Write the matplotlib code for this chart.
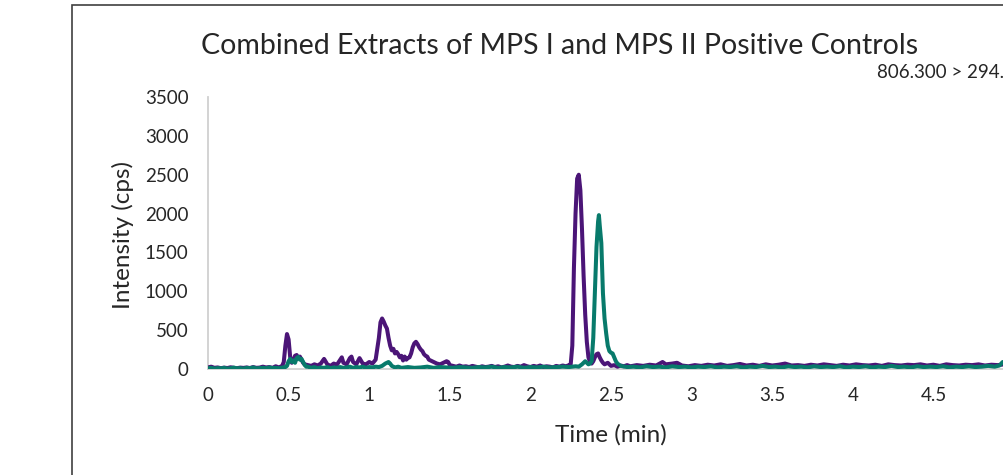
import matplotlib
matplotlib.use("Agg")
import matplotlib.pyplot as plt
import matplotlib.patches as patches

plt.rcParams['font.family'] = ['Lato', 'DejaVu Sans']

# (time [min], intensity [cps])
mps1_pts = [
    (0.00, 20), (0.02, 30), (0.04, 15), (0.06, 20), (0.08, 10), (0.10, 18),
    (0.12, 12), (0.14, 22), (0.16, 15), (0.18, 10), (0.20, 18), (0.22, 14),
    (0.24, 20), (0.26, 12), (0.28, 25), (0.30, 15), (0.32, 18), (0.34, 30),
    (0.36, 20), (0.38, 25), (0.40, 15), (0.42, 35), (0.44, 20), (0.46, 40),
    (0.47, 90), (0.48, 300), (0.49, 450), (0.50, 380), (0.51, 150), (0.52, 80),
    (0.53, 120), (0.54, 170), (0.55, 180), (0.56, 140), (0.57, 160), (0.58, 120),
    (0.59, 80), (0.60, 60), (0.62, 50), (0.64, 40), (0.66, 60), (0.68, 45),
    (0.70, 70), (0.72, 130), (0.74, 60), (0.76, 40), (0.78, 70), (0.80, 55),
    (0.82, 120), (0.83, 150), (0.84, 80), (0.86, 60), (0.88, 140), (0.89, 160),
    (0.90, 90), (0.92, 60), (0.94, 140), (0.96, 70), (0.98, 60), (1.00, 90),
    (1.02, 70), (1.04, 120), (1.06, 400), (1.07, 600), (1.08, 650), (1.09, 610),
    (1.10, 560), (1.11, 520), (1.12, 400), (1.13, 300), (1.14, 240), (1.15, 260),
    (1.16, 200), (1.17, 220), (1.18, 190), (1.19, 150), (1.20, 170), (1.21, 110),
    (1.22, 160), (1.23, 120), (1.24, 140), (1.25, 150), (1.26, 200), (1.27, 280),
    (1.28, 330), (1.29, 350), (1.30, 320), (1.31, 280), (1.32, 250), (1.33, 230),
    (1.34, 190), (1.35, 170), (1.36, 160), (1.37, 120), (1.38, 110), (1.40, 90),
    (1.42, 70), (1.44, 60), (1.46, 80), (1.48, 100), (1.49, 90), (1.50, 50),
    (1.52, 40), (1.54, 30), (1.56, 45), (1.58, 30), (1.60, 35), (1.62, 25),
    (1.64, 40), (1.66, 30), (1.68, 20), (1.70, 35), (1.72, 25), (1.74, 30),
    (1.76, 40), (1.78, 25), (1.80, 35), (1.82, 20), (1.84, 30), (1.86, 45),
    (1.88, 30), (1.90, 25), (1.92, 40), (1.94, 30), (1.96, 50), (1.98, 35),
    (2.00, 25), (2.02, 40), (2.04, 30), (2.06, 45), (2.08, 25), (2.10, 35),
    (2.12, 30), (2.14, 20), (2.16, 40), (2.18, 30), (2.20, 45), (2.22, 35),
    (2.24, 50), (2.25, 60), (2.26, 300), (2.27, 1300), (2.28, 2000), (2.29, 2450),
    (2.30, 2500), (2.31, 2300), (2.32, 1800), (2.33, 1200), (2.34, 700), (2.35, 350),
    (2.36, 150), (2.37, 90), (2.38, 70), (2.39, 100), (2.40, 150), (2.41, 190),
    (2.42, 200), (2.43, 150), (2.44, 110), (2.45, 80), (2.46, 60), (2.48, 80),
    (2.50, 40), (2.52, 50), (2.54, 30), (2.56, 45), (2.58, 35), (2.60, 50),
    (2.62, 35), (2.66, 50), (2.70, 40), (2.74, 55), (2.78, 45), (2.82, 90),
    (2.84, 60), (2.88, 70), (2.91, 80), (2.94, 45), (2.98, 35), (3.02, 50),
    (3.06, 40), (3.10, 55), (3.14, 45), (3.18, 60), (3.22, 40), (3.26, 50),
    (3.30, 65), (3.34, 45), (3.38, 55), (3.42, 40), (3.46, 60), (3.50, 45),
    (3.54, 55), (3.58, 70), (3.62, 45), (3.66, 50), (3.70, 40), (3.74, 55),
    (3.78, 45), (3.82, 60), (3.86, 50), (3.90, 40), (3.94, 55), (3.98, 45),
    (4.02, 60), (4.06, 50), (4.10, 45), (4.14, 55), (4.18, 40), (4.22, 60),
    (4.26, 50), (4.30, 45), (4.34, 55), (4.38, 50), (4.42, 60), (4.46, 45),
    (4.50, 55), (4.54, 40), (4.58, 60), (4.62, 50), (4.66, 45), (4.70, 55),
    (4.74, 50), (4.78, 60), (4.82, 45), (4.86, 55), (4.90, 50), (4.94, 60),
    (4.98, 45), (5.00, 50),
]

mps2_pts = [
    (0.00, 10), (0.02, 15), (0.04, 5), (0.06, 12), (0.08, 8), (0.10, 15),
    (0.12, 5), (0.14, 10), (0.16, 18), (0.18, 8), (0.20, 12), (0.22, 5),
    (0.24, 15), (0.26, 10), (0.28, 20), (0.30, 8), (0.32, 12), (0.34, 15),
    (0.36, 10), (0.38, 20), (0.40, 12), (0.42, 15), (0.44, 10), (0.46, 18),
    (0.48, 25), (0.49, 40), (0.50, 100), (0.51, 130), (0.52, 90), (0.53, 110),
    (0.54, 80), (0.55, 140), (0.56, 155), (0.57, 120), (0.58, 130), (0.59, 90),
    (0.60, 50), (0.61, 30), (0.62, 30), (0.64, 15), (0.66, 25), (0.68, 10),
    (0.70, 20), (0.72, 15), (0.74, 25), (0.76, 10), (0.78, 20), (0.80, 15),
    (0.82, 25), (0.84, 15), (0.86, 20), (0.88, 30), (0.90, 15), (0.92, 25),
    (0.94, 20), (0.96, 30), (0.98, 15), (1.00, 25), (1.02, 20), (1.04, 30),
    (1.06, 25), (1.08, 40), (1.10, 70), (1.12, 90), (1.13, 70), (1.14, 40),
    (1.16, 20), (1.18, 30), (1.20, 15), (1.24, 25), (1.28, 15), (1.32, 20),
    (1.36, 30), (1.40, 15), (1.44, 25), (1.48, 20), (1.52, 15), (1.56, 25),
    (1.60, 20), (1.64, 15), (1.68, 25), (1.72, 20), (1.76, 30), (1.80, 15),
    (1.84, 25), (1.88, 20), (1.92, 30), (1.96, 15), (2.00, 25), (2.04, 20),
    (2.08, 30), (2.12, 20), (2.16, 25), (2.20, 30), (2.24, 25), (2.28, 35),
    (2.30, 30), (2.32, 60), (2.34, 100), (2.35, 80), (2.36, 60), (2.37, 70),
    (2.38, 100), (2.39, 400), (2.40, 975), (2.41, 1570), (2.42, 1900), (2.425, 1980),
    (2.43, 1850), (2.44, 1620), (2.45, 975), (2.46, 650), (2.47, 460), (2.48, 300),
    (2.49, 230), (2.50, 210), (2.51, 200), (2.52, 150), (2.53, 100), (2.54, 70),
    (2.56, 40), (2.60, 25), (2.64, 30), (2.68, 20), (2.72, 35), (2.76, 25),
    (2.80, 30), (2.84, 20), (2.88, 35), (2.92, 25), (2.96, 30), (3.00, 20),
    (3.04, 30), (3.08, 25), (3.12, 35), (3.16, 20), (3.20, 30), (3.24, 25),
    (3.28, 35), (3.32, 20), (3.36, 30), (3.40, 25), (3.44, 40), (3.48, 25),
    (3.52, 30), (3.56, 20), (3.60, 35), (3.64, 25), (3.68, 30), (3.72, 20),
    (3.76, 35), (3.80, 25), (3.84, 30), (3.88, 25), (3.92, 35), (3.96, 20),
    (4.00, 30), (4.04, 25), (4.08, 35), (4.12, 20), (4.16, 30), (4.20, 25),
    (4.24, 40), (4.28, 25), (4.32, 30), (4.36, 20), (4.40, 35), (4.44, 25),
    (4.48, 30), (4.52, 25), (4.56, 35), (4.60, 20), (4.64, 30), (4.68, 25),
    (4.72, 35), (4.76, 25), (4.80, 30), (4.84, 40), (4.88, 30), (4.91, 45),
    (4.93, 90), (4.96, 60), (5.00, 40),
]

# the "5" tick falls past the right edge of the picture, so it is not labelled
x_ticks = [0, 0.5, 1, 1.5, 2, 2.5, 3, 3.5, 4, 4.5]
x_tick_labels = ['0', '0.5', '1', '1.5', '2', '2.5', '3', '3.5', '4', '4.5']
y_ticks = [0, 500, 1000, 1500, 2000, 2500, 3000, 3500]

title = "Combined Extracts of MPS I and MPS II Positive Controls"
transition = "806.300 > 294."

purple = '#4b1577'
teal = '#087a6b'
text_col = '#262626'

fig = plt.figure(figsize=(10.04, 4.75), dpi=100)

# chart area border (cut off on the right and bottom like the reference)
border = patches.Rectangle((71.5 / 1004, -0.5), 2.0, 0.5 + 1 - 5 / 475,
                           transform=fig.transFigure, fill=False,
                           edgecolor='#404040', linewidth=1.2)
fig.add_artist(border)

# plot area runs past the right edge of the image (x = 5 sits off-canvas)
ax = fig.add_axes([208 / 1004, 106 / 475, 806 / 1004, 272 / 475])

t1, i1 = zip(*mps1_pts)
t2, i2 = zip(*mps2_pts)
ax.plot(t1, i1, color=purple, linewidth=2.9, solid_joinstyle='round', zorder=3)
ax.plot(t2, i2, color=teal, linewidth=2.9, solid_joinstyle='round', zorder=4)

ax.set_xlim(0, 5)
ax.set_ylim(0, 3500)
ax.set_xticks(x_ticks)
ax.set_xticklabels(x_tick_labels)
ax.set_yticks(y_ticks)
ax.tick_params(length=0, labelsize=13.5, colors=text_col)
ax.tick_params(axis='y', pad=14)
ax.tick_params(axis='x', pad=13)

for side in ['top', 'right']:
    ax.spines[side].set_visible(False)
for side in ['left', 'bottom']:
    ax.spines[side].set_color('#d0d0d0')
    ax.spines[side].set_linewidth(1.3)

ax.set_xlabel("Time (min)", fontsize=17.5, color=text_col)
ax.xaxis.set_label_coords(0.5, (369 - 435) / 272)
ax.xaxis.label.set_va('center')
ax.set_ylabel("Intensity (cps)", fontsize=17.5, color=text_col)
ax.yaxis.set_label_coords((123 - 208) / 806, (369 - 235) / 272)
ax.yaxis.label.set_va('center')

fig.text(560 / 1004, 1 - 46 / 475, title, ha='center', va='center',
         fontsize=20.5, color=text_col)
fig.text(877 / 1004, 1 - 72 / 475, transition, ha='left', va='center',
         fontsize=13.5, color=text_col)

fig.savefig("out.png", dpi=100)
